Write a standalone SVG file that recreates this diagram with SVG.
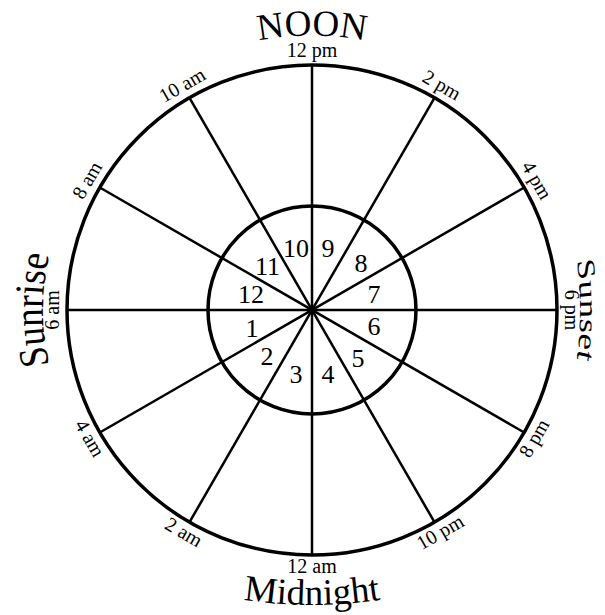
<svg xmlns="http://www.w3.org/2000/svg" width="605" height="615" viewBox="0 0 605 615">
  <style>
    .ring { fill: none; stroke: #000; stroke-width: 3.5; }
    .spoke { stroke: #000; stroke-width: 2.5; }
    .hour { font-family: "Liberation Serif", "Times New Roman", serif; font-size: 20px; fill: #000; text-anchor: middle; }
    .num { font-family: "Liberation Serif", "Times New Roman", serif; font-size: 26px; fill: #000; text-anchor: middle; }
    .big { font-family: "Liberation Serif", "Times New Roman", serif; font-size: 37px; fill: #000; text-anchor: middle; }
  </style>
  <defs>
    <path id="arcNoon" d="M135.9,99 A276,276 0 0 1 488.1,99"/>
    <path id="arcSunset" d="M517.3,137.7 A268,268 0 0 1 517.3,482.3"/>
    <path id="arcSunrise" d="M105.9,482.9 A269,269 0 0 1 105.9,137.1"/>
    <path id="arcMidnight" d="M121.8,562.8 A450,450 0 0 0 502.2,562.8"/>
  </defs>
  <rect width="605" height="615" fill="#fff"/>
  <g id="spokes">
    <line class="spoke" x1="312" y1="65" x2="312" y2="555"/>
    <line class="spoke" x1="434.5" y1="97.8" x2="189.5" y2="522.2"/>
    <line class="spoke" x1="524.2" y1="187.5" x2="99.8" y2="432.5"/>
    <line class="spoke" x1="557" y1="310" x2="67" y2="310"/>
    <line class="spoke" x1="524.2" y1="432.5" x2="99.8" y2="187.5"/>
    <line class="spoke" x1="434.5" y1="522.2" x2="189.5" y2="97.8"/>
  </g>
  <g id="outer-ring"><circle class="ring" cx="312" cy="310" r="245"/></g>
  <g id="inner-ring"><circle class="ring" cx="312" cy="310" r="104"/></g>
  <g id="hour-labels">
    <text class="hour" x="312" y="57">12 pm</text>
    <text class="hour" transform="translate(438.5,90.9) rotate(30)">2 pm</text>
    <text class="hour" transform="translate(531.1,183.5) rotate(60)">4 pm</text>
    <text class="hour" transform="translate(565,310) rotate(90)">6 pm</text>
    <text class="hour" transform="translate(539.8,441.5) rotate(-60)">8 pm</text>
    <text class="hour" transform="translate(443.5,537.8) rotate(-30)">10 pm</text>
    <text class="hour" x="312" y="573">12 am</text>
    <text class="hour" transform="translate(180.5,537.8) rotate(30)">2 am</text>
    <text class="hour" transform="translate(84.2,441.5) rotate(60)">4 am</text>
    <text class="hour" transform="translate(59,310) rotate(-90)">6 am</text>
    <text class="hour" transform="translate(92.9,183.5) rotate(-60)">8 am</text>
    <text class="hour" transform="translate(185.5,90.9) rotate(-30)">10 am</text>
  </g>
  <g id="sector-numbers">
    <text class="num" x="252" y="337">1</text>
    <text class="num" x="267" y="365">2</text>
    <text class="num" x="296" y="383">3</text>
    <text class="num" x="328" y="383">4</text>
    <text class="num" x="358" y="367">5</text>
    <text class="num" x="374" y="335">6</text>
    <text class="num" x="374" y="303">7</text>
    <text class="num" x="361" y="272">8</text>
    <text class="num" x="328" y="257">9</text>
    <text class="num" x="296" y="257">10</text>
    <text class="num" x="267.5" y="275">11</text>
    <text class="num" x="251" y="303">12</text>
  </g>
  <g id="noon"><text class="big"><textPath href="#arcNoon" startOffset="50%">NOON</textPath></text></g>
  <g id="sunset" transform="translate(580,0) scale(0.68,1) translate(-580,0)"><text class="big"><textPath href="#arcSunset" startOffset="50%">Sunset</textPath></text></g>
  <g id="midnight"><text class="big"><textPath href="#arcMidnight" startOffset="50%">Midnight</textPath></text></g>
  <g id="sunrise" transform="translate(43,0) scale(1.12,1) translate(-43,0)"><text class="big"><textPath href="#arcSunrise" startOffset="50%">Sunrise</textPath></text></g>
</svg>
